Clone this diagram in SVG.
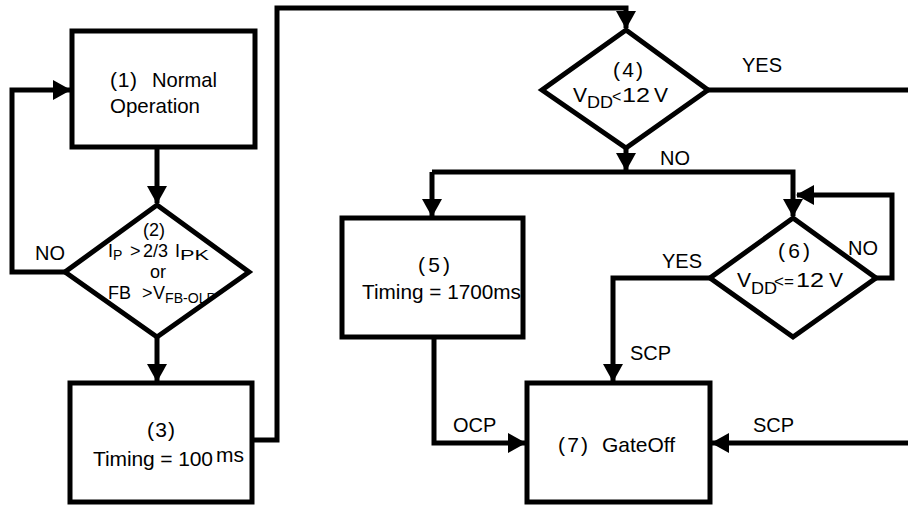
<svg xmlns="http://www.w3.org/2000/svg" width="908" height="505" viewBox="0 0 908 505">
<defs>
<marker id="ah" viewBox="0 0 18 20" refX="17" refY="10" markerWidth="3.6" markerHeight="4" orient="auto" markerUnits="strokeWidth">
<path d="M0,0 L18,10 L0,20 z" fill="#000"/>
</marker>
</defs>
<style>
.n{fill:#fff;stroke:#000;stroke-width:5;stroke-linejoin:miter}
.c{fill:none;stroke:#000;stroke-width:5;stroke-linejoin:miter}
.a{marker-end:url(#ah)}
text{font-family:"Liberation Sans",Arial,sans-serif;font-size:21px;fill:#000}
.l{font-size:20px}
.d{font-size:18px}
.s{font-size:16px}
.m{text-anchor:middle}
</style>
<rect width="908" height="505" fill="#fff"/>
<g id="connectors">
<path class="c a" d="M157,149 V203"/>
<path class="c a" d="M65,272 H12 V90 H70"/>
<path class="c a" d="M157,337 V381"/>
<path class="c a" d="M252,440 H277 V8 H626 V28"/>
<path class="c" d="M708,90 H908"/>
<path class="c a" d="M626,148 V170"/>
<path class="c a" d="M432,172 V216"/>
<path class="c a" d="M432,172 H793 V216"/>
<path class="c a" d="M876,278 H892 V195 H797"/>
<path class="c a" d="M710,278 H613 V381"/>
<path class="c a" d="M434,337 V443 H525"/>
<path class="c a" d="M908,443 H712"/>
</g>
<g id="labels">
<text class="l" x="35" y="260">NO</text>
<text class="l" x="742" y="72">YES</text>
<text class="l" x="660" y="165">NO</text>
<text class="l" x="848" y="255">NO</text>
<text class="l" x="662" y="268">YES</text>
<text class="l" x="630" y="360">SCP</text>
<text class="l" x="453" y="432">OCP</text>
<text class="l" x="753" y="432">SCP</text>
</g>
<g id="n1">
<rect class="n" x="72" y="31" width="183" height="116"/>
<text x="110" y="87" font-size="22" textLength="27">(1)</text>
<text x="152" y="87" font-size="22" textLength="65" lengthAdjust="spacingAndGlyphs">Normal</text>
<text x="110" y="113" font-size="22" textLength="90" lengthAdjust="spacingAndGlyphs">Operation</text>
</g>
<g id="n2">
<path class="n" d="M157,205 L249,272 L157,337 L65,272 Z"/>
<text class="d"><tspan x="143" y="236">(2)</tspan><tspan x="108" y="257">I</tspan><tspan font-size="14" dy="3">P</tspan><tspan dy="-3" x="130">&gt;</tspan><tspan x="143">2/3</tspan><tspan x="175">I</tspan><tspan font-size="14" dy="3" textLength="29" lengthAdjust="spacingAndGlyphs">PK</tspan><tspan x="150" y="278">or</tspan><tspan x="108" y="299">FB</tspan><tspan x="142">&gt;</tspan><tspan x="153">V</tspan><tspan dy="4" font-size="14" textLength="51" lengthAdjust="spacingAndGlyphs">FB-OLP</tspan></text>
</g>
<g id="n3">
<rect class="n" x="70" y="383" width="182" height="119"/>
<text x="147" y="437" textLength="28">(3)</text>
<text x="93" y="466" textLength="120">Timing = 100</text>
<text x="216" y="462">ms</text>
</g>
<g id="n4">
<path class="n" d="M626,30 L708,90 L626,148 L542,90 Z"/>
<text x="613" y="77" textLength="30">(4)</text>
<text x="573" y="102">V<tspan class="s" dy="6" textLength="26" lengthAdjust="spacingAndGlyphs">DD</tspan><tspan dy="-6" x="612" font-size="16">&lt;</tspan><tspan x="622" textLength="28" lengthAdjust="spacingAndGlyphs">12</tspan><tspan x="654">V</tspan></text>
</g>
<g id="n5">
<rect class="n" x="342" y="218" width="181" height="119"/>
<text x="418" y="272" textLength="32">(5)</text>
<text x="362" y="299" textLength="159" lengthAdjust="spacingAndGlyphs">Timing = 1700ms</text>
</g>
<g id="n6">
<path class="n" d="M793,218 L876,278 L793,337 L710,278 Z"/>
<text x="778" y="258" textLength="32">(6)</text>
<text x="737" y="287">V<tspan class="s" dy="7" textLength="26" lengthAdjust="spacingAndGlyphs">DD</tspan><tspan dy="-7" x="774" font-size="17">&lt;=</tspan><tspan x="796" textLength="28" lengthAdjust="spacingAndGlyphs">12</tspan><tspan x="829">V</tspan></text>
</g>
<g id="n7">
<rect class="n" x="527" y="383" width="183" height="119"/>
<text x="558" y="452" textLength="30">(7)</text>
<text x="602" y="452">GateOff</text>
</g>
</svg>
